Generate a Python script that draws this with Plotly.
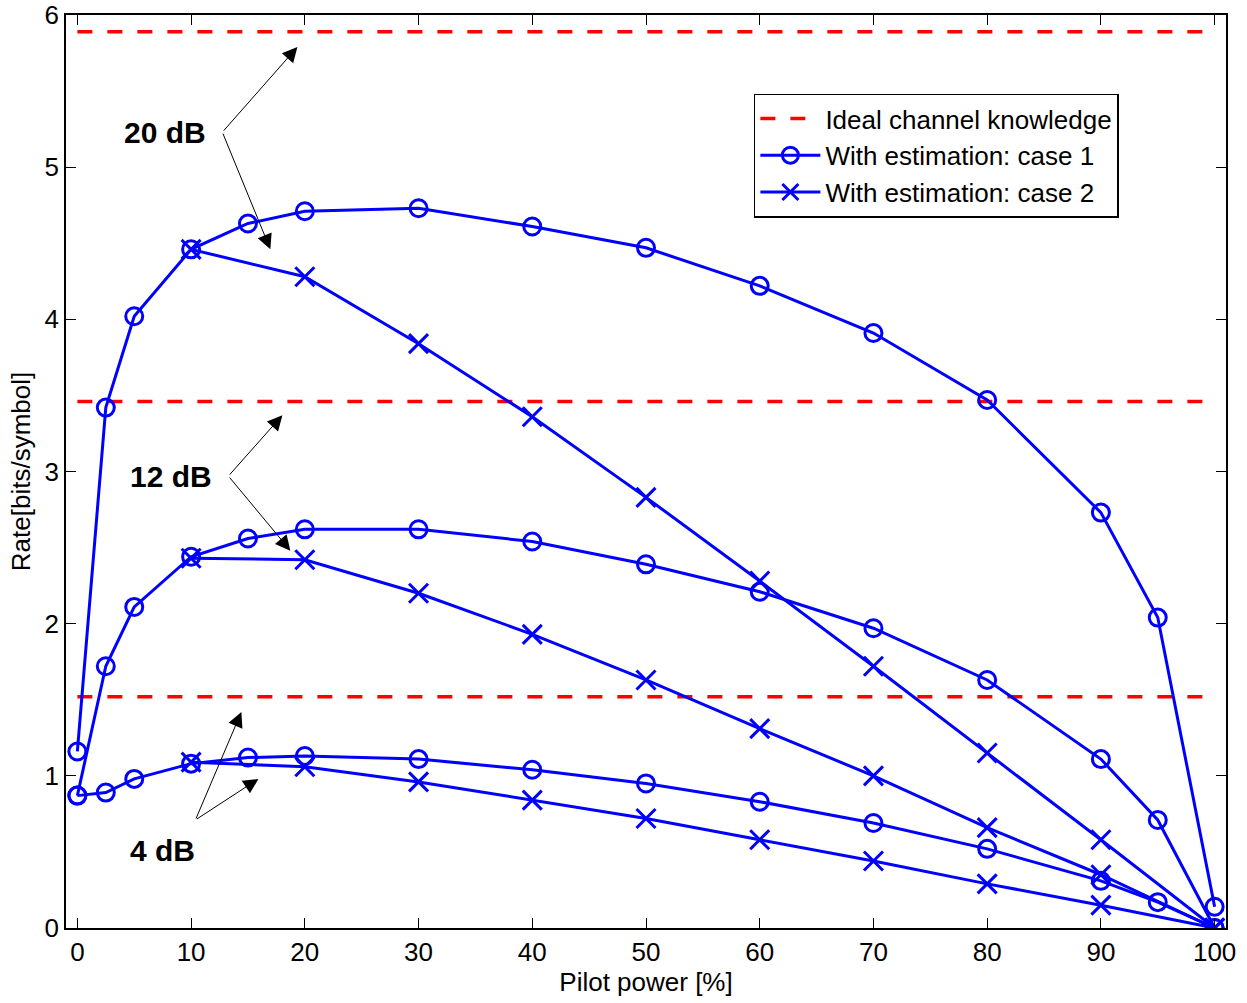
import plotly.graph_objects as go

# ---- data ----
x_case1 = [0, 2.5, 5, 10, 15, 20, 30, 40, 50, 60, 70, 80, 90, 95, 100]
x_case2 = [10, 20, 30, 40, 50, 60, 70, 80, 90, 100]

c1_20dB = [1.16, 3.42, 4.02, 4.46, 4.63, 4.71, 4.73, 4.61, 4.47, 4.22, 3.91, 3.47, 2.73, 2.04, 0.14]
c1_12dB = [0.87, 1.72, 2.11, 2.44, 2.56, 2.62, 2.62, 2.54, 2.39, 2.21, 1.97, 1.63, 1.11, 0.71, 0.0]
c1_4dB = [0.87, 0.89, 0.98, 1.08, 1.12, 1.13, 1.11, 1.04, 0.95, 0.83, 0.69, 0.52, 0.31, 0.17, 0.0]

c2_20dB = [4.46, 4.28, 3.84, 3.36, 2.83, 2.28, 1.72, 1.15, 0.58, 0.0]
c2_12dB = [2.43, 2.42, 2.20, 1.93, 1.63, 1.31, 1.00, 0.66, 0.35, 0.0]
c2_4dB = [1.09, 1.06, 0.96, 0.84, 0.72, 0.58, 0.44, 0.29, 0.15, 0.0]

ideal_x = [0, 100]
ideal_levels = [5.89, 3.46, 1.52]

snr_labels = ["20 dB", "12 dB", "4 dB"]

BLUE = "#0000ff"
RED = "#ff0000"
FONT = "Liberation Sans, Arial, sans-serif"

fig = go.Figure()

for i, lvl in enumerate(ideal_levels):
    fig.add_trace(go.Scatter(
        x=ideal_x, y=[lvl, lvl], mode="lines",
        line=dict(color=RED, width=3.5, dash="15px,15px"),
        name="Ideal channel knowledge", legendgroup="ideal",
        showlegend=(i == 0)))

for i, ys in enumerate([c1_20dB, c1_12dB, c1_4dB]):
    fig.add_trace(go.Scatter(
        x=x_case1, y=ys, mode="lines+markers",
        line=dict(color=BLUE, width=3),
        marker=dict(symbol="circle-open", size=17, color=BLUE, line=dict(width=3, color=BLUE)),
        name="With estimation: case 1", legendgroup="c1",
        showlegend=(i == 0)))

for i, ys in enumerate([c2_20dB, c2_12dB, c2_4dB]):
    fig.add_trace(go.Scatter(
        x=x_case2, y=ys, mode="lines+markers",
        line=dict(color=BLUE, width=3),
        marker=dict(symbol="x-thin-open", size=19, color=BLUE, line=dict(width=3, color=BLUE)),
        name="With estimation: case 2", legendgroup="c2",
        showlegend=(i == 0)))

# annotations: labels with arrows (tail at label side, heads pointing to curves)
label_pos = [(7.7, 5.23), (8.2, 2.97), (7.5, 0.51)]
arrow_tails = [(12.75, 5.23), (13.28, 2.97), (10.38, 0.71)]
arrow_heads = [[(19.35, 5.79), (16.97, 4.46)],
               [(18.03, 3.37), (18.73, 2.48)],
               [(14.42, 1.42), (15.92, 0.98)]]

annotations = []
for lab, (lx, ly), (tx, ty), heads in zip(snr_labels, label_pos, arrow_tails, arrow_heads):
    annotations.append(dict(x=lx, y=ly, xref="x", yref="y", text="<b>%s</b>" % lab,
                            showarrow=False, font=dict(size=30, color="black", family=FONT)))
    for hx, hy in heads:
        annotations.append(dict(x=hx, y=hy, ax=tx, ay=ty, xref="x", yref="y",
                                axref="x", ayref="y", text="", showarrow=True,
                                arrowhead=2, arrowsize=3.0, arrowwidth=1, arrowcolor="black"))

axis_common = dict(showgrid=False, zeroline=False, showline=True, linecolor="black",
                   linewidth=1.5, mirror="allticks", ticks="inside", ticklen=10,
                   tickwidth=1, tickcolor="black", automargin=False,
                   ticklabeloverflow="allow",
                   tickfont=dict(size=26, color="black", family=FONT))

fig.update_layout(
    width=1247, height=1003,
    margin=dict(l=66, r=21, t=15, b=75),
    plot_bgcolor="white", paper_bgcolor="white",
    font=dict(family=FONT, color="black"),
    xaxis=dict(range=[-1, 101], tickmode="array", tickvals=list(range(0, 101, 10)),
               title=dict(text="Pilot power [%]", font=dict(size=26), standoff=4),
               **axis_common),
    yaxis=dict(range=[0, 6], tickmode="array", tickvals=list(range(0, 7)),
               title=dict(text="Rate[bits/symbol]", font=dict(size=26), standoff=6),
               **axis_common),
    legend=dict(x=0.593, y=0.914, xanchor="left", yanchor="top",
                bgcolor="white", bordercolor="black", borderwidth=1.5,
                font=dict(size=26, color="black", family=FONT),
                tracegroupgap=0, itemwidth=60),
    annotations=annotations,
    showlegend=True,
)

fig.write_html("out.html", config={"displayModeBar": False},
               post_script="document.body.style.margin='0px';document.body.style.overflow='hidden';")
